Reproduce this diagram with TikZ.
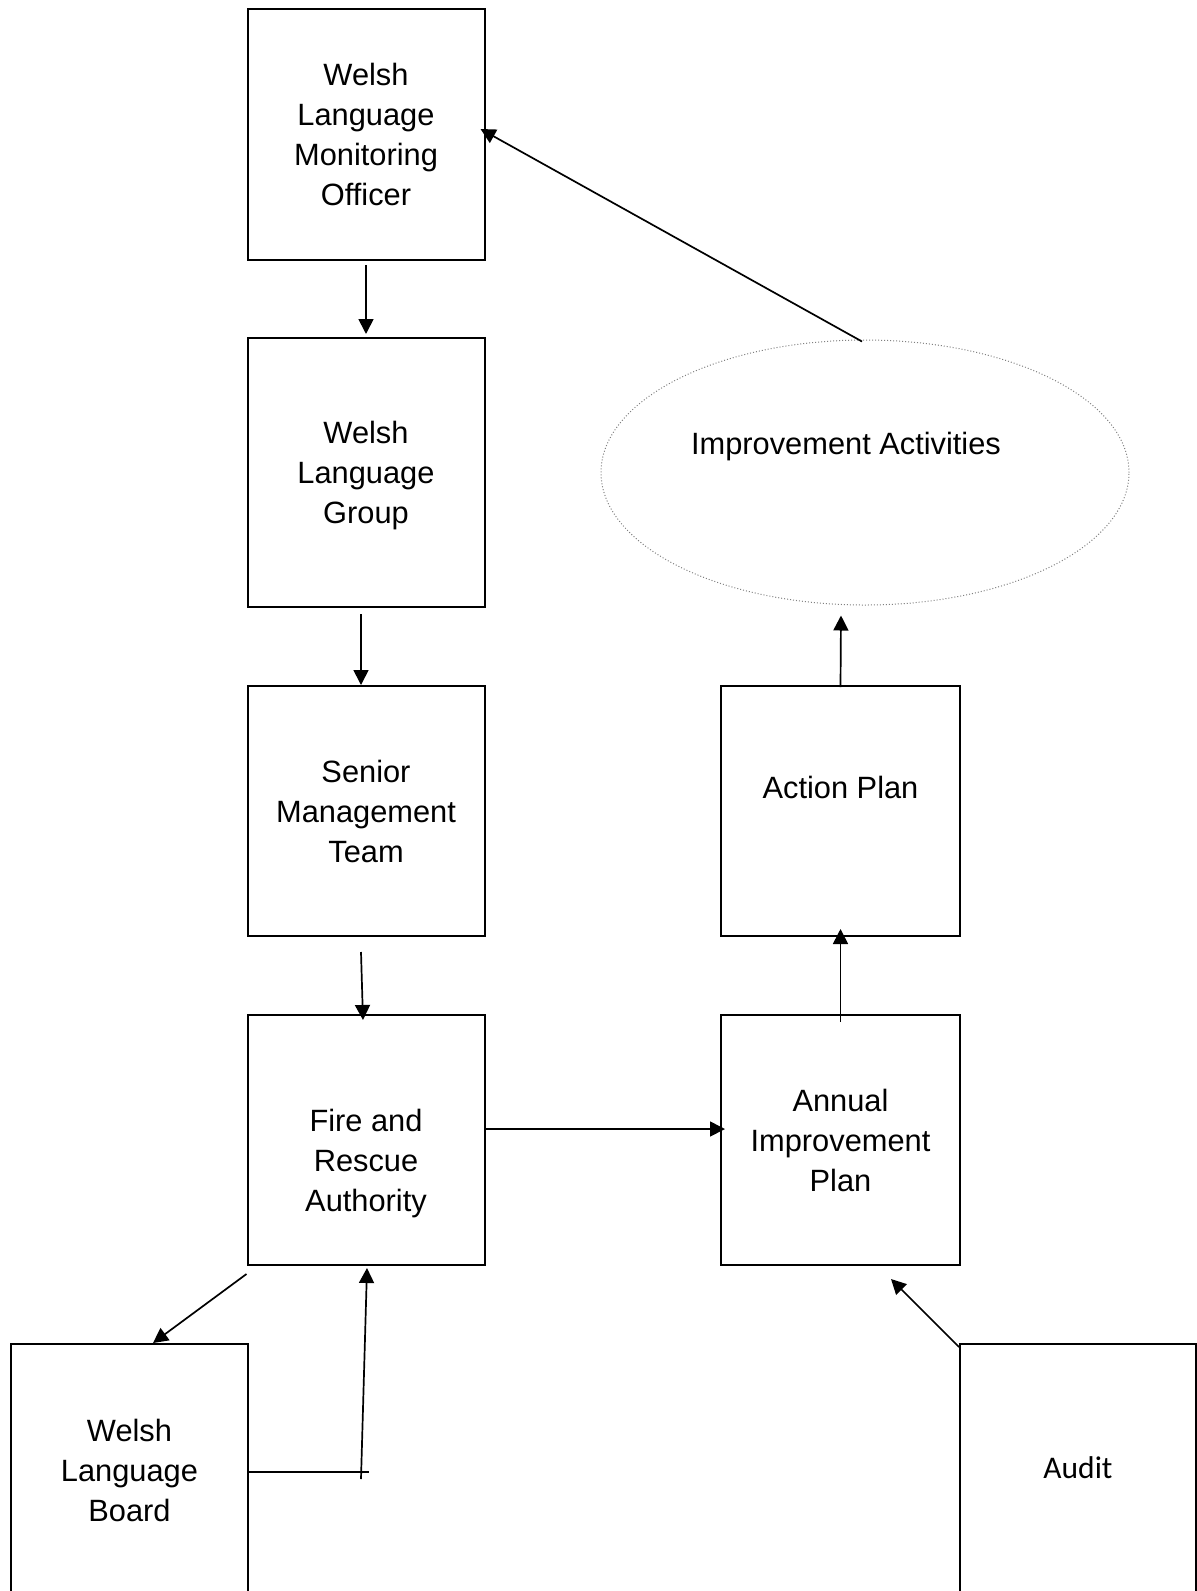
\documentclass[tikz,border=0pt]{standalone}
\usepackage{fontspec}
\setmainfont{Liberation Sans}
\newfontfamily\audfont{Carlito}
\usetikzlibrary{arrows.meta,shapes.geometric}
\tikzset{
  box/.style={draw, line width=2pt, inner sep=0pt, minimum width=237pt, minimum height=250pt},
  lbl/.style={align=center, inner sep=0pt, font=\fontsize{30.8}{40}\selectfont},
  arr/.style={line width=1.7pt, -{Triangle[length=15pt,width=15pt]}},
  plain/.style={line width=1.7pt}
}
\begin{document}
\begin{tikzpicture}[x=1pt,y=-1pt]
\useasboundingbox (0,0) rectangle (1197,1591);
\clip (0,0) rectangle (1197,1591);
% boxes
\node[box, minimum height=251pt] (wlmo) at (366,134.5) {};
\node[box, minimum height=269pt] (wlg) at (366,472.5) {};
\node[box] (smt) at (366,811) {};
\node[box] (fra) at (366,1140) {};
\node[box, minimum width=239pt] (ap) at (840.5,811) {};
\node[box, minimum width=239pt] (aip) at (840.5,1140) {};
\node[box, minimum height=300pt] (wlb) at (129.5,1494) {};
\node[box, minimum width=236pt, minimum height=300pt] (audit) at (1078,1494) {};
\node[ellipse, draw=gray, dotted, line width=1pt, inner sep=0pt, minimum width=528pt, minimum height=265pt] (ia) at (865,472.5) {};
% texts
\node[lbl] (t1) at (366,134) {Welsh\\Language\\Monitoring\\Officer};
\node[lbl] (t2) at (366,476) {Welsh\\Language\\Group};
\node[lbl] (t3) at (366,811) {Senior\\Management\\Team};
\node[lbl] (t4) at (366,1164) {Fire and\\Rescue\\Authority};
\node[lbl] (t5) at (840.5,787) {Action Plan};
\node[lbl] (t6) at (840.5,1140) {Annual\\Improvement\\Plan};
\node[lbl] (t7) at (129.5,1470) {Welsh\\Language\\Board};
\node[lbl, font=\audfont\fontsize{31.5}{40}\selectfont] (t8) at (1078,1468) {Audit};
\node[lbl] (t9) at (846,447) {Improvement Activities};
% connectors
\draw[arr] ([yshift=-4pt]wlmo.south) -- ([yshift=3pt]wlg.north);
\draw[arr] ([xshift=-5pt,yshift=-6pt]wlg.south) -- ([xshift=-5pt]smt.north);
\draw[arr] ([xshift=-5pt,yshift=-15pt]smt.south) -- ([xshift=-3pt,yshift=-6pt]fra.north);
\draw[arr] ([yshift=11pt]fra.east) -- ([xshift=5pt,yshift=11pt]aip.west);
\draw[arr] ([yshift=-8pt]aip.north) -- ([yshift=8pt]ap.south);
\draw[arr] ([yshift=-2pt]ap.north) -- ([xshift=-24pt,yshift=-10pt]ia.south);
\draw[arr] ([xshift=-3pt,yshift=-2pt]ia.north) -- ([xshift=-5pt,yshift=5.5pt]wlmo.east);
\draw[arr] ([yshift=-8pt]fra.south west) -- ([xshift=23.5pt]wlb.north);
\coordinate (hend) at (369,1472);
\coordinate (vstart) at (361,1479);
\draw[plain] ([yshift=22pt]wlb.east) -- (hend);
\draw[arr] (vstart) -- ([xshift=1pt,yshift=-2pt]fra.south);
\draw[arr] ([yshift=-4pt]audit.north west) -- ([xshift=-70pt,yshift=-13pt]aip.south east);
\end{tikzpicture}
\end{document}
